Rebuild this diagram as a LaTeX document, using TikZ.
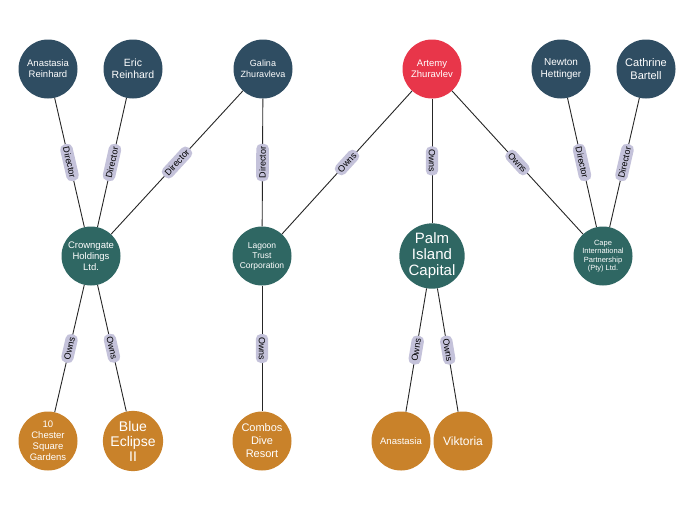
\documentclass[tikz,border=0pt]{standalone}
\usepackage{fontspec}
\setmainfont{Liberation Sans}
\begin{document}
\begin{tikzpicture}[x=1pt,y=-1pt,
  ent/.style={circle,minimum size=59pt,inner sep=0pt,align=center,text=white,font=\fontsize{9.5}{11}\selectfont},
  person/.style={ent,fill=blue2},
  target/.style={ent,fill=red2},
  org/.style={ent,fill=teal2},
  asset/.style={ent,fill=orange2},
  lnk/.style={draw=black!85,line width=0.9pt},
  lbl/.style={midway,sloped,fill=lav,rounded corners=5pt,inner xsep=3pt,inner ysep=3pt,font=\fontsize{9}{10}\selectfont}]
\definecolor{blue2}{HTML}{2F4D62}
\definecolor{red2}{HTML}{E8364A}
\definecolor{teal2}{HTML}{2F6763}
\definecolor{orange2}{HTML}{C9822A}
\definecolor{lav}{HTML}{C4C2DA}
\useasboundingbox (0,0) rectangle (700,504);
\node[person] (ar) at (48,69) {Anastasia\\Reinhard};
\node[person,font=\fontsize{10.5}{12}\selectfont] (er) at (133,69) {Eric\\Reinhard};
\node[person,font=\fontsize{9}{10.5}\selectfont] (gz) at (263,69) {Galina\\Zhuravleva};
\node[target] (az) at (432,69) {Artemy\\Zhuravlev};
\node[person,font=\fontsize{10}{11.5}\selectfont] (nh) at (561,69) {Newton\\Hettinger};
\node[person,font=\fontsize{11}{12.5}\selectfont] (cb) at (646,69) {Cathrine\\Bartell};
\node[org] (cg) at (91,256) {Crowngate\\Holdings\\Ltd.};
\node[org,font=\fontsize{8.5}{10}\selectfont] (lt) at (262,256) {Lagoon\\Trust\\Corporation};
\node[org,font=\fontsize{15}{16}\selectfont] (pi) at (432,256) {Palm\\Island\\Capital};
\node[org,font=\fontsize{7.5}{8.5}\selectfont] (cp) at (603,256) {Cape\\International\\Partnership\\(Pty) Ltd.};
\node[asset,font=\fontsize{9.5}{11}\selectfont] (cs) at (48,441) {10\\Chester\\Square\\Gardens};
\node[asset,font=\fontsize{14}{15}\selectfont] (be) at (133,441) {Blue\\Eclipse\\II};
\node[asset,font=\fontsize{11}{13}\selectfont] (cd) at (262,441) {Combos\\Dive\\Resort};
\node[asset] (an) at (401,441) {Anastasia};
\node[asset,font=\fontsize{12}{14}\selectfont] (vk) at (463,441) {Viktoria};
\path[lnk] (ar) -- node[lbl]{Director} (cg);
\path[lnk] (er) -- node[lbl]{Director} (cg);
\path[lnk] (gz) -- node[lbl]{Director} (cg);
\path[lnk] (gz) -- node[lbl]{Director} (lt);
\path[lnk] (az) -- node[lbl]{Owns} (lt);
\path[lnk] (az) -- node[lbl]{Owns} (pi);
\path[lnk] (az) -- node[lbl]{Owns} (cp);
\path[lnk] (nh) -- node[lbl]{Director} (cp);
\path[lnk] (cb) -- node[lbl]{Director} (cp);
\path[lnk] (cg) -- node[lbl]{Owns} (cs);
\path[lnk] (cg) -- node[lbl]{Owns} (be);
\path[lnk] (lt) -- node[lbl]{Owns} (cd);
\path[lnk] (pi) -- node[lbl]{Owns} (an);
\path[lnk] (pi) -- node[lbl]{Owns} (vk);
\end{tikzpicture}
\end{document}
